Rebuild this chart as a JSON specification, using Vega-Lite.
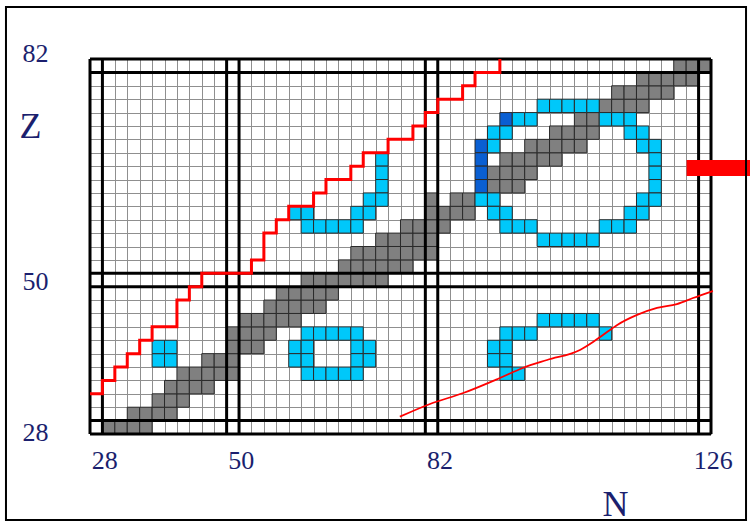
{
  "$schema": "https://vega.github.io/schema/vega-lite/v6.json",
  "width": 621,
  "height": 375,
  "autosize": {"type": "none"},
  "padding": {"left": 90, "top": 59, "right": 39, "bottom": 89},
  "background": "white",
  "config": {"view": {"stroke": null}, "font": "Liberation Serif"},
  "datasets": {
    "cells": [
      {"N": 30, "Z": 28, "kind": "stable"}, {"N": 32, "Z": 28, "kind": "stable"}, {"N": 34, "Z": 28, "kind": "stable"}, {"N": 36, "Z": 28, "kind": "stable"},
      {"N": 34, "Z": 30, "kind": "stable"}, {"N": 36, "Z": 30, "kind": "stable"}, {"N": 38, "Z": 30, "kind": "stable"}, {"N": 40, "Z": 30, "kind": "stable"},
      {"N": 38, "Z": 32, "kind": "stable"}, {"N": 40, "Z": 32, "kind": "stable"}, {"N": 42, "Z": 32, "kind": "stable"},
      {"N": 40, "Z": 34, "kind": "stable"}, {"N": 42, "Z": 34, "kind": "stable"}, {"N": 44, "Z": 34, "kind": "stable"}, {"N": 46, "Z": 34, "kind": "stable"},
      {"N": 42, "Z": 36, "kind": "stable"}, {"N": 44, "Z": 36, "kind": "stable"}, {"N": 46, "Z": 36, "kind": "stable"}, {"N": 48, "Z": 36, "kind": "stable"}, {"N": 50, "Z": 36, "kind": "stable"},
      {"N": 46, "Z": 38, "kind": "stable"}, {"N": 48, "Z": 38, "kind": "stable"}, {"N": 50, "Z": 38, "kind": "stable"},
      {"N": 50, "Z": 40, "kind": "stable"}, {"N": 52, "Z": 40, "kind": "stable"}, {"N": 54, "Z": 40, "kind": "stable"},
      {"N": 50, "Z": 42, "kind": "stable"}, {"N": 52, "Z": 42, "kind": "stable"}, {"N": 54, "Z": 42, "kind": "stable"}, {"N": 56, "Z": 42, "kind": "stable"},
      {"N": 52, "Z": 44, "kind": "stable"}, {"N": 54, "Z": 44, "kind": "stable"}, {"N": 56, "Z": 44, "kind": "stable"}, {"N": 58, "Z": 44, "kind": "stable"}, {"N": 60, "Z": 44, "kind": "stable"},
      {"N": 56, "Z": 46, "kind": "stable"}, {"N": 58, "Z": 46, "kind": "stable"}, {"N": 60, "Z": 46, "kind": "stable"}, {"N": 62, "Z": 46, "kind": "stable"}, {"N": 64, "Z": 46, "kind": "stable"},
      {"N": 58, "Z": 48, "kind": "stable"}, {"N": 60, "Z": 48, "kind": "stable"}, {"N": 62, "Z": 48, "kind": "stable"}, {"N": 64, "Z": 48, "kind": "stable"}, {"N": 66, "Z": 48, "kind": "stable"},
      {"N": 62, "Z": 50, "kind": "stable"}, {"N": 64, "Z": 50, "kind": "stable"}, {"N": 66, "Z": 50, "kind": "stable"}, {"N": 68, "Z": 50, "kind": "stable"}, {"N": 70, "Z": 50, "kind": "stable"}, {"N": 72, "Z": 50, "kind": "stable"}, {"N": 74, "Z": 50, "kind": "stable"},
      {"N": 68, "Z": 52, "kind": "stable"}, {"N": 70, "Z": 52, "kind": "stable"}, {"N": 72, "Z": 52, "kind": "stable"}, {"N": 74, "Z": 52, "kind": "stable"}, {"N": 76, "Z": 52, "kind": "stable"}, {"N": 78, "Z": 52, "kind": "stable"},
      {"N": 70, "Z": 54, "kind": "stable"}, {"N": 72, "Z": 54, "kind": "stable"}, {"N": 74, "Z": 54, "kind": "stable"}, {"N": 76, "Z": 54, "kind": "stable"}, {"N": 78, "Z": 54, "kind": "stable"}, {"N": 80, "Z": 54, "kind": "stable"}, {"N": 82, "Z": 54, "kind": "stable"},
      {"N": 74, "Z": 56, "kind": "stable"}, {"N": 76, "Z": 56, "kind": "stable"}, {"N": 78, "Z": 56, "kind": "stable"}, {"N": 80, "Z": 56, "kind": "stable"}, {"N": 82, "Z": 56, "kind": "stable"},
      {"N": 78, "Z": 58, "kind": "stable"}, {"N": 80, "Z": 58, "kind": "stable"}, {"N": 82, "Z": 58, "kind": "stable"}, {"N": 84, "Z": 58, "kind": "stable"},
      {"N": 82, "Z": 60, "kind": "stable"}, {"N": 84, "Z": 60, "kind": "stable"}, {"N": 86, "Z": 60, "kind": "stable"}, {"N": 88, "Z": 60, "kind": "stable"},
      {"N": 82, "Z": 62, "kind": "stable"}, {"N": 86, "Z": 62, "kind": "stable"}, {"N": 88, "Z": 62, "kind": "stable"},
      {"N": 92, "Z": 64, "kind": "stable"}, {"N": 94, "Z": 64, "kind": "stable"}, {"N": 96, "Z": 64, "kind": "stable"},
      {"N": 92, "Z": 66, "kind": "stable"}, {"N": 94, "Z": 66, "kind": "stable"}, {"N": 96, "Z": 66, "kind": "stable"}, {"N": 98, "Z": 66, "kind": "stable"},
      {"N": 94, "Z": 68, "kind": "stable"}, {"N": 96, "Z": 68, "kind": "stable"}, {"N": 98, "Z": 68, "kind": "stable"}, {"N": 100, "Z": 68, "kind": "stable"}, {"N": 102, "Z": 68, "kind": "stable"},
      {"N": 98, "Z": 70, "kind": "stable"}, {"N": 100, "Z": 70, "kind": "stable"}, {"N": 102, "Z": 70, "kind": "stable"}, {"N": 104, "Z": 70, "kind": "stable"}, {"N": 106, "Z": 70, "kind": "stable"},
      {"N": 102, "Z": 72, "kind": "stable"}, {"N": 104, "Z": 72, "kind": "stable"}, {"N": 106, "Z": 72, "kind": "stable"}, {"N": 108, "Z": 72, "kind": "stable"},
      {"N": 106, "Z": 74, "kind": "stable"}, {"N": 108, "Z": 74, "kind": "stable"},
      {"N": 110, "Z": 76, "kind": "stable"}, {"N": 112, "Z": 76, "kind": "stable"}, {"N": 114, "Z": 76, "kind": "stable"}, {"N": 116, "Z": 76, "kind": "stable"},
      {"N": 112, "Z": 78, "kind": "stable"}, {"N": 114, "Z": 78, "kind": "stable"}, {"N": 116, "Z": 78, "kind": "stable"}, {"N": 118, "Z": 78, "kind": "stable"}, {"N": 120, "Z": 78, "kind": "stable"},
      {"N": 116, "Z": 80, "kind": "stable"}, {"N": 118, "Z": 80, "kind": "stable"}, {"N": 120, "Z": 80, "kind": "stable"}, {"N": 122, "Z": 80, "kind": "stable"}, {"N": 124, "Z": 80, "kind": "stable"},
      {"N": 122, "Z": 82, "kind": "stable"}, {"N": 124, "Z": 82, "kind": "stable"}, {"N": 126, "Z": 82, "kind": "stable"},

      {"N": 38, "Z": 38, "kind": "shell"}, {"N": 40, "Z": 38, "kind": "shell"}, {"N": 38, "Z": 40, "kind": "shell"}, {"N": 40, "Z": 40, "kind": "shell"},

      {"N": 62, "Z": 42, "kind": "shell"}, {"N": 64, "Z": 42, "kind": "shell"}, {"N": 66, "Z": 42, "kind": "shell"}, {"N": 68, "Z": 42, "kind": "shell"}, {"N": 70, "Z": 42, "kind": "shell"},
      {"N": 60, "Z": 40, "kind": "shell"}, {"N": 62, "Z": 40, "kind": "shell"}, {"N": 70, "Z": 40, "kind": "shell"}, {"N": 72, "Z": 40, "kind": "shell"},
      {"N": 60, "Z": 38, "kind": "shell"}, {"N": 62, "Z": 38, "kind": "shell"}, {"N": 70, "Z": 38, "kind": "shell"}, {"N": 72, "Z": 38, "kind": "shell"},
      {"N": 62, "Z": 36, "kind": "shell"}, {"N": 64, "Z": 36, "kind": "shell"}, {"N": 66, "Z": 36, "kind": "shell"}, {"N": 68, "Z": 36, "kind": "shell"}, {"N": 70, "Z": 36, "kind": "shell"},

      {"N": 100, "Z": 44, "kind": "shell"}, {"N": 102, "Z": 44, "kind": "shell"}, {"N": 104, "Z": 44, "kind": "shell"}, {"N": 106, "Z": 44, "kind": "shell"}, {"N": 108, "Z": 44, "kind": "shell"},
      {"N": 94, "Z": 42, "kind": "shell"}, {"N": 96, "Z": 42, "kind": "shell"}, {"N": 98, "Z": 42, "kind": "shell"}, {"N": 110, "Z": 42, "kind": "shell"},
      {"N": 92, "Z": 40, "kind": "shell"}, {"N": 94, "Z": 40, "kind": "shell"},
      {"N": 92, "Z": 38, "kind": "shell"}, {"N": 94, "Z": 38, "kind": "shell"},
      {"N": 94, "Z": 36, "kind": "shell"}, {"N": 96, "Z": 36, "kind": "shell"},

      {"N": 74, "Z": 68, "kind": "shell"}, {"N": 74, "Z": 66, "kind": "shell"}, {"N": 74, "Z": 64, "kind": "shell"},
      {"N": 72, "Z": 62, "kind": "shell"}, {"N": 74, "Z": 62, "kind": "shell"},
      {"N": 60, "Z": 60, "kind": "shell"}, {"N": 62, "Z": 60, "kind": "shell"}, {"N": 70, "Z": 60, "kind": "shell"}, {"N": 72, "Z": 60, "kind": "shell"},
      {"N": 62, "Z": 58, "kind": "shell"}, {"N": 64, "Z": 58, "kind": "shell"}, {"N": 66, "Z": 58, "kind": "shell"}, {"N": 68, "Z": 58, "kind": "shell"}, {"N": 70, "Z": 58, "kind": "shell"},

      {"N": 100, "Z": 76, "kind": "shell"}, {"N": 102, "Z": 76, "kind": "shell"}, {"N": 104, "Z": 76, "kind": "shell"}, {"N": 106, "Z": 76, "kind": "shell"}, {"N": 108, "Z": 76, "kind": "shell"},
      {"N": 94, "Z": 74, "kind": "edge"}, {"N": 96, "Z": 74, "kind": "shell"}, {"N": 98, "Z": 74, "kind": "shell"}, {"N": 110, "Z": 74, "kind": "shell"}, {"N": 112, "Z": 74, "kind": "shell"}, {"N": 114, "Z": 74, "kind": "shell"},
      {"N": 92, "Z": 72, "kind": "shell"}, {"N": 94, "Z": 72, "kind": "shell"}, {"N": 114, "Z": 72, "kind": "shell"}, {"N": 116, "Z": 72, "kind": "shell"},
      {"N": 90, "Z": 70, "kind": "edge"}, {"N": 92, "Z": 70, "kind": "shell"}, {"N": 116, "Z": 70, "kind": "shell"}, {"N": 118, "Z": 70, "kind": "shell"},
      {"N": 90, "Z": 68, "kind": "edge"}, {"N": 118, "Z": 68, "kind": "shell"},
      {"N": 90, "Z": 66, "kind": "edge"}, {"N": 118, "Z": 66, "kind": "shell"},
      {"N": 90, "Z": 64, "kind": "edge"}, {"N": 118, "Z": 64, "kind": "shell"},
      {"N": 90, "Z": 62, "kind": "shell"}, {"N": 92, "Z": 62, "kind": "shell"}, {"N": 116, "Z": 62, "kind": "shell"}, {"N": 118, "Z": 62, "kind": "shell"},
      {"N": 92, "Z": 60, "kind": "shell"}, {"N": 94, "Z": 60, "kind": "shell"}, {"N": 114, "Z": 60, "kind": "shell"}, {"N": 116, "Z": 60, "kind": "shell"},
      {"N": 94, "Z": 58, "kind": "shell"}, {"N": 96, "Z": 58, "kind": "shell"}, {"N": 98, "Z": 58, "kind": "shell"}, {"N": 110, "Z": 58, "kind": "shell"}, {"N": 112, "Z": 58, "kind": "shell"}, {"N": 114, "Z": 58, "kind": "shell"},
      {"N": 100, "Z": 56, "kind": "shell"}, {"N": 102, "Z": 56, "kind": "shell"}, {"N": 104, "Z": 56, "kind": "shell"}, {"N": 106, "Z": 56, "kind": "shell"}, {"N": 108, "Z": 56, "kind": "shell"}
    ],
    "magicN": [{"N": 27}, {"N": 29}, {"N": 49}, {"N": 51}, {"N": 81}, {"N": 83}, {"N": 125}, {"N": 127}],
    "magicZ": [{"Z": 27}, {"Z": 29}, {"Z": 49}, {"Z": 51}, {"Z": 81}, {"Z": 83}],
    "dripLine": [
      {"N": 27, "Z": 33}, {"N": 29, "Z": 35}, {"N": 31, "Z": 37}, {"N": 33, "Z": 39}, {"N": 35, "Z": 41},
      {"N": 37, "Z": 43}, {"N": 41, "Z": 47}, {"N": 43, "Z": 49}, {"N": 45, "Z": 51}, {"N": 53, "Z": 53},
      {"N": 55, "Z": 57}, {"N": 57, "Z": 59}, {"N": 59, "Z": 61}, {"N": 63, "Z": 63}, {"N": 65, "Z": 65},
      {"N": 69, "Z": 67}, {"N": 71, "Z": 69}, {"N": 75, "Z": 71}, {"N": 79, "Z": 73}, {"N": 81, "Z": 75},
      {"N": 83, "Z": 77}, {"N": 87, "Z": 79}, {"N": 89, "Z": 81}, {"N": 93, "Z": 83}
    ],
    "path": [
      {"N": 76.9, "Z": 29.58}, {"N": 81.75, "Z": 31.48}, {"N": 87.1, "Z": 33.12}, {"N": 93.0, "Z": 35.36},
      {"N": 96.7, "Z": 36.86}, {"N": 100.6, "Z": 38.05}, {"N": 105.9, "Z": 39.55}, {"N": 108.0, "Z": 40.74},
      {"N": 109.6, "Z": 41.78}, {"N": 111.9, "Z": 43.28}, {"N": 115.1, "Z": 44.78}, {"N": 118.3, "Z": 45.82},
      {"N": 121.5, "Z": 46.41}, {"N": 124.1, "Z": 47.31}, {"N": 127.3, "Z": 48.36}
    ]
  },
  "layer": [
    {
      "data": {"name": "cells"},
      "mark": {
        "type": "point",
        "shape": "M-1,-1.078H1V1.078H-1Z",
        "size": 154.3,
        "filled": true,
        "opacity": 1,
        "stroke": "#2a2a2a",
        "strokeWidth": 1
      },
      "encoding": {
        "x": {
          "field": "N",
          "type": "quantitative",
          "scale": {"domain": [27, 127], "nice": false, "zero": false},
          "axis": {
            "values": [27, 28, 29, 31, 33, 35, 37, 39, 41, 43, 45, 47, 49, 50, 51, 53, 55, 57, 59, 61, 63, 65, 67, 69, 71, 73, 75, 77, 79, 81, 82, 83, 85, 87, 89, 91, 93, 95, 97, 99, 101, 103, 105, 107, 109, 111, 113, 115, 117, 119, 121, 123, 125, 126, 127],
            "tickCount": 1000,
            "format": "d",
            "title": "N",
            "titleX": 525,
            "titleY": 81,
            "titleAlign": "center",
            "titleBaseline": "alphabetic",
            "titleFont": "Liberation Serif",
            "titleFontSize": 36,
            "titleFontWeight": "normal",
            "titleColor": "#1b1f6e",
            "ticks": false,
            "domain": false,
            "labelFont": "Liberation Serif",
            "labelFontSize": 26,
            "labelColor": "#1b1f6e",
            "labelPadding": 13,
            "labelOffset": 8,
            "labelFlush": false,
            "labelOverlap": false,
            "labelBound": false,
            "labelExpr": "indexof([28, 50, 82, 126], datum.value) >= 0 ? datum.label : ''",
            "grid": true,
            "gridColor": "#8f8f8f",
            "gridWidth": 1,
            "gridOpacity": {"condition": {"test": "datum.value % 2 == 1", "value": 1}, "value": 0}
          }
        },
        "y": {
          "field": "Z",
          "type": "quantitative",
          "scale": {"domain": [27, 83], "nice": false, "zero": false},
          "axis": {
            "values": [27, 28, 29, 31, 33, 35, 37, 39, 41, 43, 45, 47, 49, 50, 51, 53, 55, 57, 59, 61, 63, 65, 67, 69, 71, 73, 75, 77, 79, 81, 82, 83],
            "tickCount": 1000,
            "format": "d",
            "title": "Z",
            "titleAngle": 0,
            "titleX": -60,
            "titleY": 78,
            "titleAlign": "center",
            "titleBaseline": "alphabetic",
            "titleFont": "Liberation Serif",
            "titleFontSize": 36,
            "titleFontWeight": "normal",
            "titleColor": "#1b1f6e",
            "ticks": false,
            "domain": false,
            "labelFont": "Liberation Serif",
            "labelFontSize": 26,
            "labelColor": "#1b1f6e",
            "labelPadding": 42,
            "labelAlign": "right",
            "labelBaseline": "middle",
            "labelOffset": {"condition": [{"test": "datum.value == 82", "value": -12}, {"test": "datum.value == 28", "value": 5}], "value": 2},
            "labelFlush": false,
            "labelOverlap": false,
            "labelBound": false,
            "labelExpr": "indexof([28, 50, 82], datum.value) >= 0 ? datum.label : ''",
            "grid": true,
            "gridColor": "#8f8f8f",
            "gridWidth": 1,
            "gridOpacity": {"condition": {"test": "datum.value % 2 == 1", "value": 1}, "value": 0}
          }
        },
        "color": {
          "field": "kind",
          "type": "nominal",
          "scale": {"domain": ["stable", "shell", "edge"], "range": ["#808080", "#00c8fa", "#0a5fd2"]},
          "legend": null
        }
      }
    },
    {
      "data": {"name": "magicN"},
      "mark": {"type": "rule", "color": "black", "strokeWidth": 3},
      "encoding": {"x": {"field": "N", "type": "quantitative"}}
    },
    {
      "data": {"name": "magicZ"},
      "mark": {"type": "rule", "color": "black", "strokeWidth": 3},
      "encoding": {"y": {"field": "Z", "type": "quantitative"}}
    },
    {
      "data": {"name": "dripLine"},
      "mark": {"type": "line", "color": "#ff0000", "strokeWidth": 3, "interpolate": "step-after"},
      "encoding": {
        "x": {"field": "N", "type": "quantitative"},
        "y": {"field": "Z", "type": "quantitative"}
      }
    },
    {
      "data": {"name": "path"},
      "mark": {"type": "line", "color": "#ff0000", "strokeWidth": 1.8, "interpolate": "monotone"},
      "encoding": {
        "x": {"field": "N", "type": "quantitative"},
        "y": {"field": "Z", "type": "quantitative"}
      }
    },
    {
      "data": {"values": [{}]},
      "mark": {"type": "rect", "color": "#ff0000"},
      "encoding": {
        "x": {"datum": 123.07},
        "x2": {"datum": 133.4},
        "y": {"datum": 65.53},
        "y2": {"datum": 67.92}
      }
    },
    {
      "data": {"values": [{}]},
      "mark": {"type": "rect", "fillOpacity": 0, "stroke": "black", "strokeWidth": 2},
      "encoding": {
        "x": {"datum": 13.47},
        "x2": {"datum": 132.64},
        "y": {"datum": 14.16},
        "y2": {"datum": 90.77}
      }
    }
  ]
}
